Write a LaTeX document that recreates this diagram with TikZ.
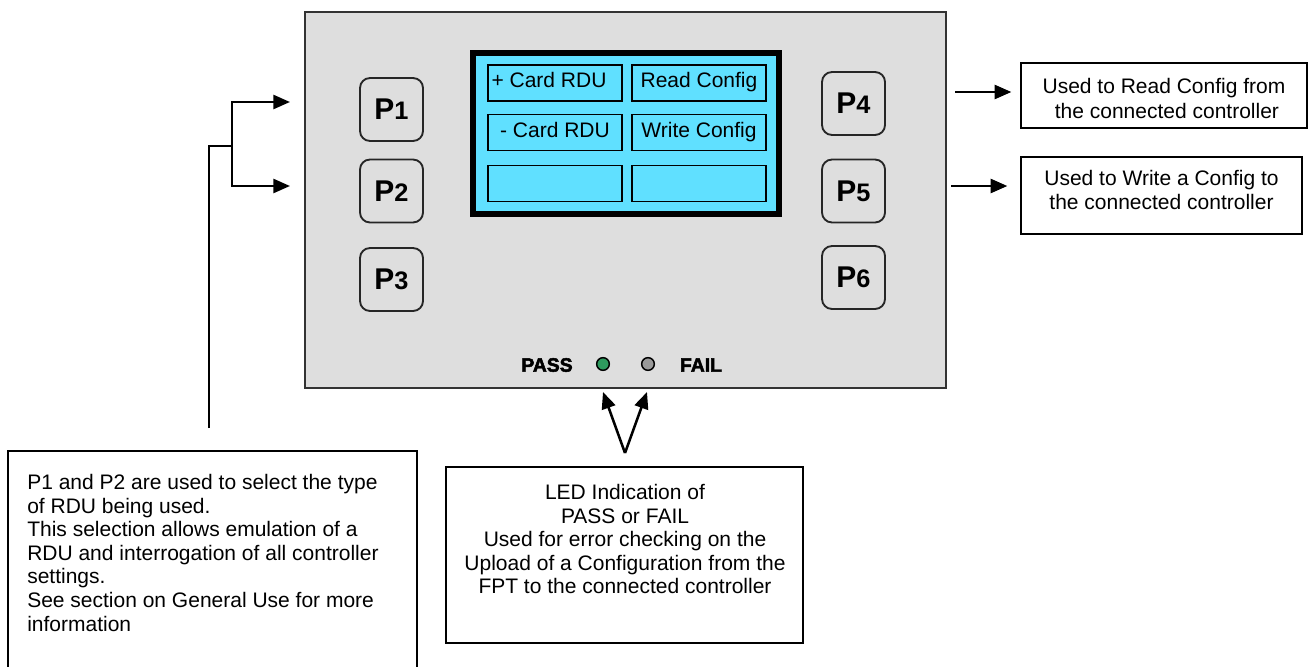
\documentclass[tikz,border=0pt]{standalone}
\usepackage{fontspec}
\setmainfont{Liberation Sans}
\newfontfamily\heavyfont{Liberation Sans Bold}[FakeBold=2.5]
\usetikzlibrary{arrows.meta}

\definecolor{panelfill}{HTML}{DEDEDE}
\definecolor{paneledge}{HTML}{333333}
\definecolor{lcdfill}{HTML}{60E0FF}
\definecolor{passgreen}{HTML}{2E9A5E}
\definecolor{failgrey}{HTML}{9A9A9A}

% key caption: a large bold P followed by a slightly smaller digit
\newcommand{\keycap}[1]{{\fontsize{22.5}{22.5}\selectfont\bfseries P}{\fontsize{19}{19}\selectfont\bfseries #1}}

\tikzset{
  sized/.style 2 args={minimum width=#1*0.75pt, minimum height=#2*0.75pt},
  bodytext/.style={font={\fontsize{15.75}{17.7}\selectfont}},
  panelbox/.style={draw=paneledge, fill=panelfill, line width=1.5pt, inner sep=0pt},
  lcdframe/.style={draw=black, fill=lcdfill, line width=4.5pt, inner sep=0pt},
  lcdcell/.style={draw=black, line width=1.3pt, inner sep=0pt, bodytext,
                  text height=11.5pt, text depth=4pt, sized={134}{36}},
  keybox/.style={draw=black!85, line width=1.4pt, rounded corners=7.5pt, inner sep=0pt,
                 sized={63}{63}},
  led/.style={circle, draw=black, line width=1.1pt, minimum size=9.5pt, inner sep=0pt},
  ledtag/.style={font={\heavyfont\fontsize{14.5}{14.5}\selectfont}, inner sep=0pt},
  notebox/.style={draw=black, line width=1pt, inner sep=0pt},
  notetext/.style={bodytext, inner sep=0pt},
  pointer/.style={line width=1.9pt, -{Triangle[length=12.5pt,width=10.5pt]}},
  wire/.style={line width=1.5pt},
}

\begin{document}
\begin{tikzpicture}[x=0.75pt, y=-0.75pt]
\useasboundingbox (0,0) rectangle (1314,667);
\clip (0,0) rectangle (1314,667);

% front panel
\node[panelbox, sized={641}{376}] (panel) at (625.5,200) {};

% display with its six soft-key captions
\node[lcdframe, sized={306}{161}] (lcd) at (626,133.5) {};
\node[lcdcell] (c11) at (555,83) {+ Card RDU\kern 9pt};
\node[lcdcell] (c12) at (699,83) {Read Config};
\node[lcdcell] (c21) at (555,132.5) {- Card RDU};
\node[lcdcell] (c22) at (699,132.5) {Write Config};
\node[lcdcell] (c31) at (555,183.5) {};
\node[lcdcell] (c32) at (699,183.5) {};

% push buttons
\node[keybox] (P1) at (391.5,109.5) {\keycap{1}};
\node[keybox] (P2) at (391.5,191) {\keycap{2}};
\node[keybox] (P3) at (391.5,279.5) {\keycap{3}};
\node[keybox] (P4) at (853.5,103.5) {\keycap{4}};
\node[keybox] (P5) at (853.5,191) {\keycap{5}};
\node[keybox] (P6) at (853.5,277.5) {\keycap{6}};

% status LEDs
\node[ledtag] (passtag) at (547,365) {PASS};
\node[led, fill=passgreen] (passled) at (603,364) {};
\node[led, fill=failgrey] (failled) at (648,364) {};
\node[ledtag] (failtag) at (701,365) {FAIL};

% explanatory notes
\node[notebox, sized={286}{65}, align=center,
      font={\fontsize{15.75}{18.6}\selectfont}] (readnote) at (1164,95.5)
  {\rule{0pt}{16pt}Used to Read Config from\\ \ the connected controller};
\node[notebox, sized={281}{77}, align=center,
      font={\fontsize{15.75}{18.6}\selectfont}] (writenote) at (1161.5,195.5)
  {Used to Write a Config to\\the connected controller\rule[-8.5pt]{0pt}{1pt}};

\node[notebox, sized={409}{269}] (rdunote) at (212.5,585.5) {};
\node[notetext, anchor=north west, align=left] (rdutext) at (27,474)
  {P1 and P2 are used to select the type\\
   of RDU being used.\\
   This selection allows emulation of a\\
   RDU and interrogation of all controller\\
   settings.\\
   See section on General Use for more\\
   information};

\node[notebox, sized={357}{176}] (lednote) at (624.5,555) {};
\node[notetext, anchor=north, align=center] (ledtext) at (625,484)
  {LED Indication of\\
   PASS or FAIL\\
   Used for error checking on the\\
   Upload of a Configuration from the\\
   FPT to the connected controller};

% pointers from the notes to the panel
\coordinate (stem) at (209,428);
\coordinate (fork) at (232,146);
\coordinate (p1in) at (290,102);
\coordinate (p2in) at (290,186);
\draw[wire] (stem) |- (fork);
\draw[pointer] (fork) |- (p1in);
\draw[pointer] (fork) |- (p2in);

\coordinate (p4out) at (955,92);
\coordinate (p5out) at (951,186);
\draw[pointer, shorten >=6.75pt] (p4out) -- (p4out -| readnote.west);
\draw[pointer, shorten >=9.75pt] (p5out) -- (p5out -| writenote.west);

\coordinate (apex) at (625,453);
\coordinate (passtip) at (603,392);
\coordinate (failtip) at (647,392);
\draw[pointer] (apex) -- (passtip);
\draw[pointer] (apex) -- (failtip);
\end{tikzpicture}
\end{document}
